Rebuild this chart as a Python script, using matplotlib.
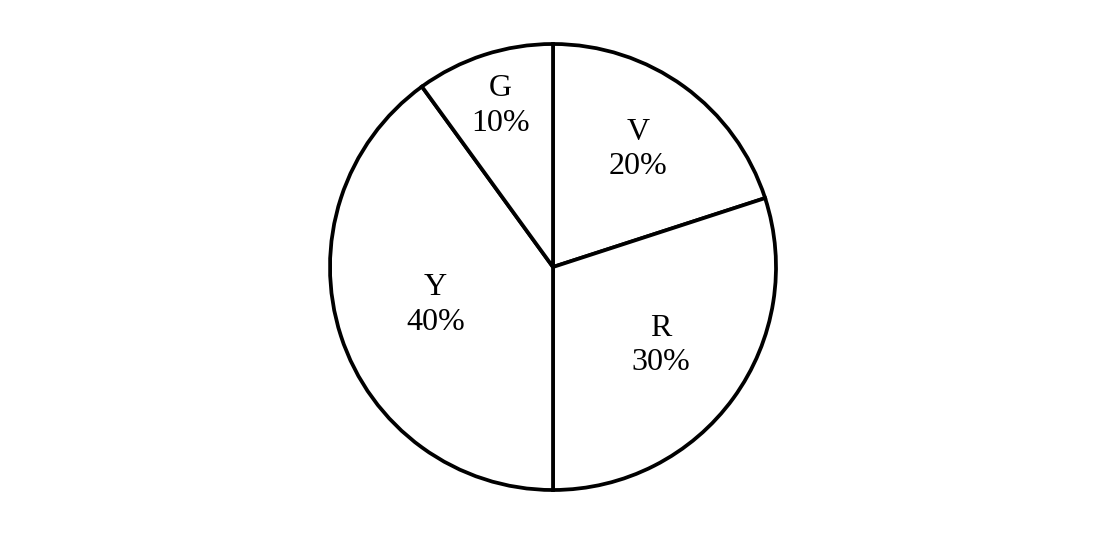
import numpy as np
import matplotlib
matplotlib.use('Agg')
import matplotlib.pyplot as plt

# slices, clockwise from the top
labels = ['V', 'R', 'Y', 'G']
shares = [20, 30, 40, 10]

# how far out each label sits (fraction of radius)
label_r = [0.65, 0.6, 0.555, 0.76]

plt.rcParams['font.family'] = ['Liberation Serif', 'DejaVu Serif']

fig = plt.figure(figsize=(11.05, 5.35), dpi=100)
# axes box so the pie centre lands at (553, 267) px, radius ~223 px
R_px = 223
cx, cy = 553, 535 - 267
ax = fig.add_axes([(cx - R_px) / 1105, (cy - R_px) / 535, 2 * R_px / 1105, 2 * R_px / 535])

wedges, texts = ax.pie(shares, startangle=90, counterclock=False,
                       colors=['white'] * len(shares),
                       wedgeprops=dict(edgecolor='black', linewidth=2.7),
                       labels=[f'{l}\n{s}%' for l, s in zip(labels, shares)],
                       labeldistance=0.6, radius=1.0)

for w, t, r in zip(wedges, texts, label_r):
    mid = np.deg2rad((w.theta1 + w.theta2) / 2)
    t.set_position((r * np.cos(mid), r * np.sin(mid)))
    t.set_ha('center')
    t.set_va('center')
    t.set_fontsize(23)
    t.set_linespacing(1.25)

ax.set_xlim(-1.0, 1.0)
ax.set_ylim(-1.0, 1.0)
ax.set_aspect('equal')
ax.axis('off')

fig.savefig('out.png', dpi=100)
plt.close()
